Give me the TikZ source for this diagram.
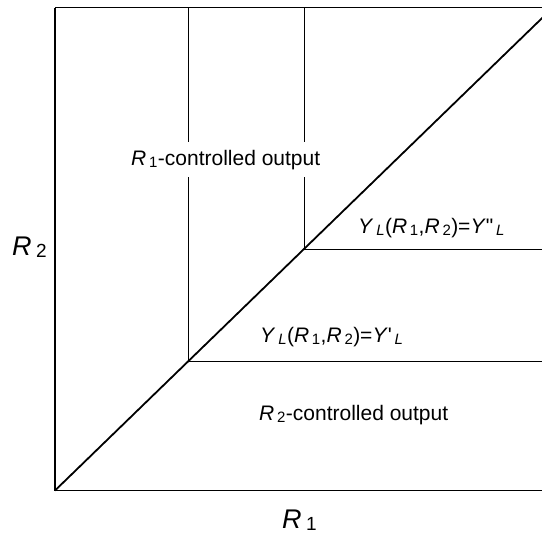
\documentclass[tikz,border=0pt]{standalone}
\usepackage{fontspec}
\setmainfont{Liberation Sans}
\newcommand\bsub[1]{\kern2.8pt\raisebox{-2.2pt}{\fontsize{15}{15}\selectfont #1}\kern0.4pt}
\newcommand\asub[1]{\kern4.5pt\raisebox{-2pt}{\fontsize{19}{19}\selectfont #1}}
\begin{document}
\begin{tikzpicture}[x=1pt,y=-1pt,
  thinline/.style={line width=1pt,black},
  thickline/.style={line width=1.8pt,black},
  bodytext/.style={font=\fontsize{21}{24}\selectfont,inner sep=0pt,anchor=base west},
  axistext/.style={font=\fontsize{27}{30}\selectfont,inner sep=0pt,anchor=base west}]
\useasboundingbox (0,0) rectangle (542,536);
\clip (0,0) rectangle (542,536);
\coordinate (O) at (55,490.5);
\coordinate (TL) at (55,7.5);
\coordinate (TR) at (570,7.5);
\coordinate (BR) at (570,490.5);
\coordinate (A) at (188,361.5);
\coordinate (B) at (304,249);
\coordinate (D) at (570,-9);
% frame
\draw[thinline] (TL) -- (TR);
\draw[thickline] (TL) -- (O) -- (BR);
% region lines
\draw[thinline] (A) -- (A |- TL);
\draw[thinline] (B) -- (B |- TL);
\draw[thinline] (A) -- (A -| BR);
\draw[thinline] (B) -- (B -| BR);
\draw[thickline] (O) -- (D);
% labels
\node[bodytext,fill=white,text height=15pt,text depth=4pt,inner ysep=8pt] (r1c) at (131,165) {\textit{R}\bsub{1}-controlled output};
\node[bodytext] (ypp) at (358,233) {\textit{Y}\bsub{\textit{L}}(\textit{R}\bsub{1},\textit{R}\bsub{2})=\textit{Y}\textquotedbl\bsub{\textit{L}}};
\node[bodytext] (yp) at (260,342) {\textit{Y}\bsub{\textit{L}}(\textit{R}\bsub{1},\textit{R}\bsub{2})=\textit{Y}\textquotesingle\bsub{\textit{L}}};
\node[bodytext] (r2c) at (259,420) {\textit{R}\bsub{2}-controlled output};
\node[axistext] (r2) at (12,255.5) {\textit{R}\asub{2}};
\node[axistext] (r1) at (282,528) {\textit{R}\asub{1}};
\end{tikzpicture}
\end{document}
